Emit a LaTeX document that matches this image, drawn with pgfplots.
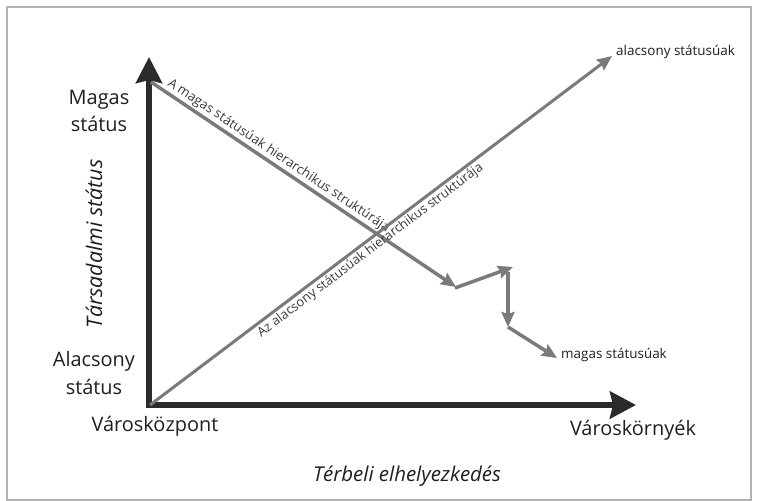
\documentclass[border=0pt]{standalone}
\usepackage{pgfplots}
\pgfplotsset{compat=1.18}
\usepackage{fontspec}
\setmainfont{Open Sans}
\usetikzlibrary{arrows.meta}
\definecolor{axdark}{HTML}{2B2B2B}
\definecolor{lgray}{HTML}{7A7A7A}
\definecolor{tgray}{HTML}{3A3A3A}
\definecolor{lblack}{HTML}{1E1E1E}
\begin{document}
\begin{tikzpicture}
\begin{axis}[width=757bp,height=501bp,scale only axis,
  xmin=0,xmax=757,ymin=0,ymax=501,y dir=reverse,hide axis,clip=false]
\path[draw=none] (axis cs:0,0) rectangle (axis cs:757,501);
\draw[gray!60,line width=1.2bp] (axis cs:7,7) rectangle (axis cs:751,500);
% axes
\addplot[axdark,line width=6bp,-{Stealth[length=26bp,width=26bp,inset=3bp]}] coordinates {(149,408) (149,57)};
\addplot[axdark,line width=6bp,-{Stealth[length=26bp,width=27bp,inset=3bp]}] coordinates {(146,405) (636,405)};
% descending line
\addplot[lgray,line width=3.5bp,-{Stealth[length=15bp,width=13bp,inset=2bp]}] coordinates {(151,82) (456,287)}
  node[pos=0.40,sloped,above,text=tgray,font=\fontsize{13.2}{15}\selectfont,inner sep=1.5bp]{A magas státusúak hierarchikus struktúrája};
% ascending line
\addplot[lgray,line width=3bp,-{Stealth[length=15bp,width=13bp,inset=2bp]}] coordinates {(150,405) (612,56)}
  node[pos=0.465,sloped,below,text=tgray,font=\fontsize{13}{15}\selectfont,inner sep=1.5bp]{Az alacsony státusúak hierarchikus struktúrája};
% zigzag
\addplot[lgray,line width=3.5bp,-{Stealth[length=15bp,width=13bp,inset=2bp]}] coordinates {(455,288) (513,267)};
\addplot[lgray,line width=3.5bp,-{Stealth[length=15bp,width=13bp,inset=2bp]}] coordinates {(508,272) (508,327)};
\addplot[lgray,line width=3.5bp,-{Stealth[length=15bp,width=13bp,inset=2bp]}] coordinates {(508,327) (557,358)};
% labels
\node[text=lblack,font=\fontsize{13.5}{16}\selectfont,anchor=west,inner sep=1bp] at (axis cs:560,355) {magas státusúak};
\node[text=lblack,font=\fontsize{13.5}{16}\selectfont,anchor=west,inner sep=1bp] at (axis cs:615,52) {alacsony státusúak};
\node[text=lblack,font=\fontsize{20}{28}\selectfont,align=center] at (axis cs:99,111) {Magas\\státus};
\node[text=lblack,font=\fontsize{20}{28}\selectfont,align=center] at (axis cs:94,373) {Alacsony\\státus};
\node[text=lblack,font=\fontsize{20}{24}\selectfont] at (axis cs:155,426) {Városközpont};
\node[text=lblack,font=\fontsize{20}{24}\selectfont] at (axis cs:633,430) {Városkörnyék};
\node[text=lblack,font=\itshape\fontsize{21.5}{24}\selectfont,rotate=90] at (axis cs:94,244) {Társadalmi státus};
\node[text=lblack,font=\itshape\fontsize{20.5}{24}\selectfont] at (axis cs:407,476) {Térbeli elhelyezkedés};
\end{axis}
\end{tikzpicture}
\end{document}
